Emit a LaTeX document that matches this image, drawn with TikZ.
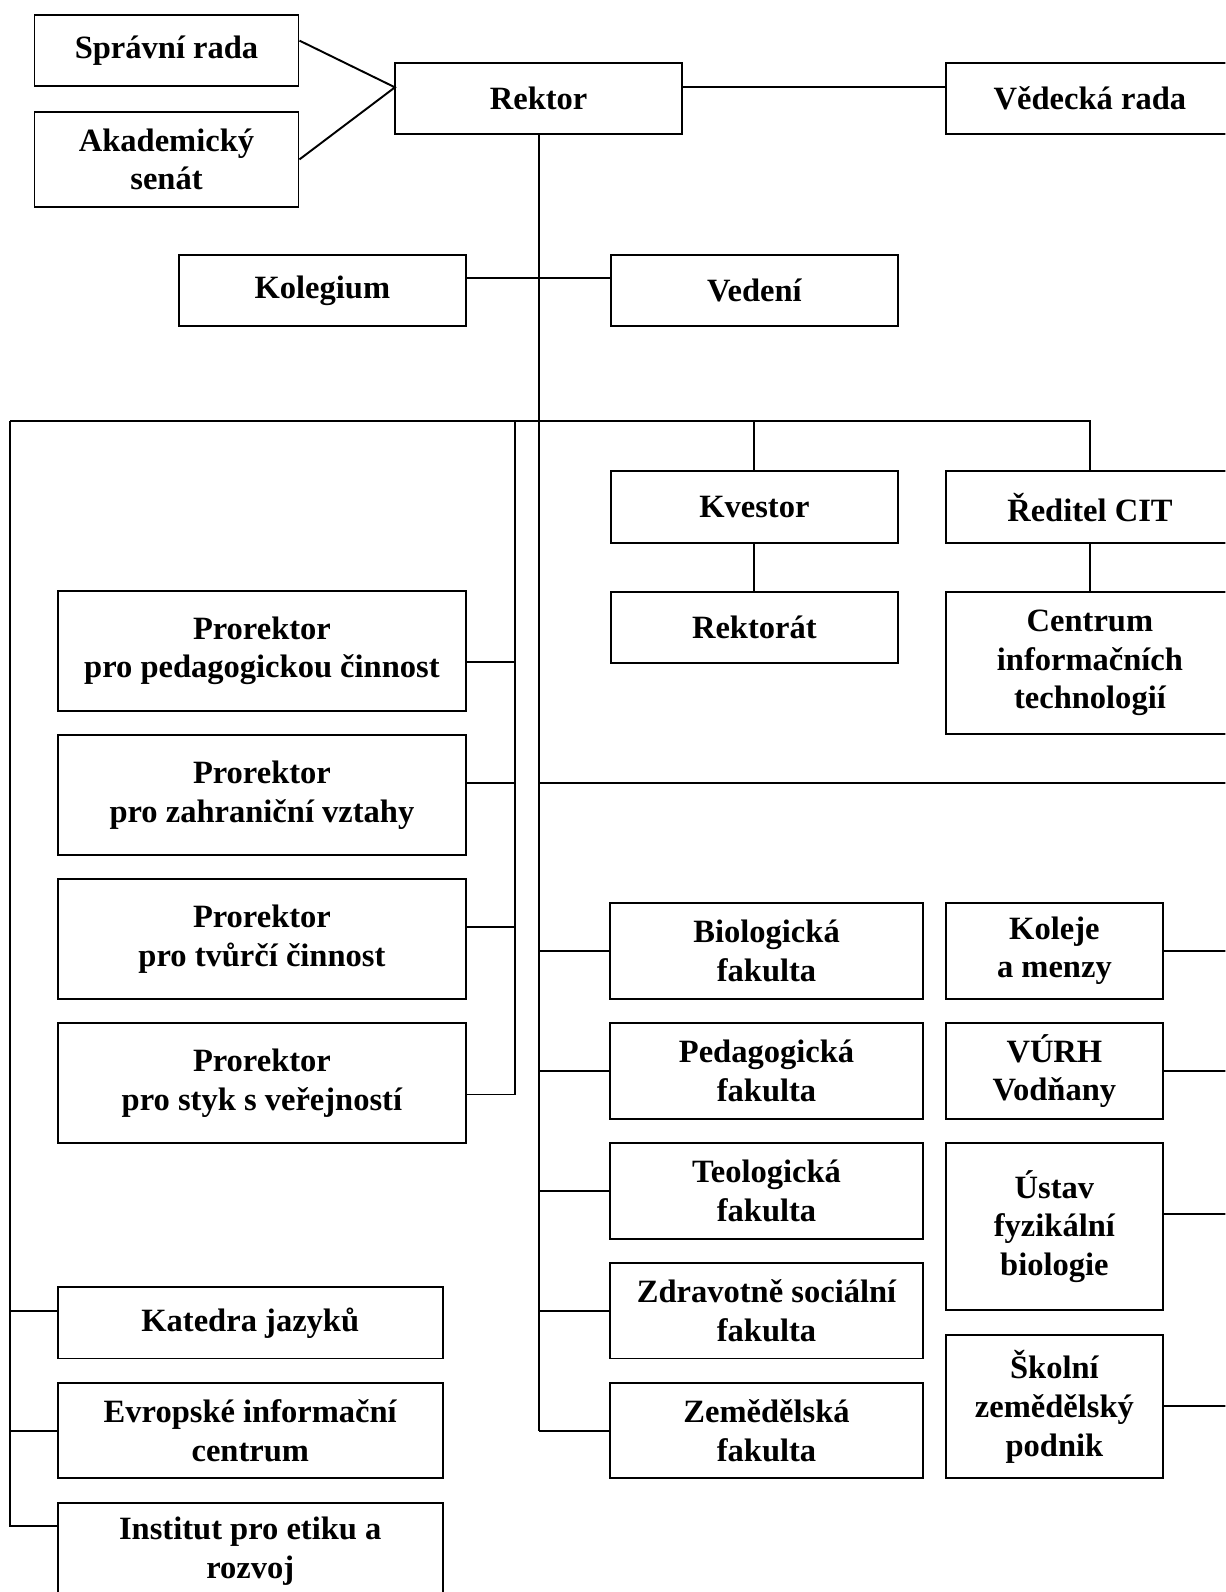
\documentclass[tikz,border=0pt]{standalone}
\usepackage{fontspec}
\setmainfont{Liberation Serif}

\begin{document}
\begin{tikzpicture}[x=0.0203cm, y=-0.0203cm, line width=1.1pt,
            box/.style={draw, align=center, inner sep=2pt,
              font=\bfseries\fontsize{18.5}{22}\selectfont},
            sz/.style 2 args={minimum width=#1*0.0203cm, minimum height=#2*0.0203cm}]
  \useasboundingbox (0,0) rectangle (1207,1568);
  \clip (0,0) rectangle (1207,1568);
  % vedeni univerzity
  \node[box, sz={260}{70}] (sprava) at (164,50) {Správní rada};
  \node[box, sz={260}{94}] (senat) at (164,157) {Akademický\\senát};
  \node[box, sz={283}{70}] (rektor) at (530.5,97) {Rektor};
  \node[box, sz={283}{70}] (vedecka) at (1073.5,97) {Vědecká rada};
  \node[box, sz={283}{70}] (kolegium) at (317.5,286) {Kolegium};
  \node[box, sz={283}{70}] (vedeni) at (743,286) {Vedení};
  \node[box, sz={283}{71}] (kvestor) at (743,499.5) {Kvestor};
  \node[box, sz={283}{70}] (rektorat) at (743,618) {Rektorát};
  \node[box, sz={283}{71}] (reditel) at (1073.5,499.5) {Ředitel CIT};
  \node[box, sz={283}{140}] (cit) at (1073.5,653) {Centrum\\informačních\\technologií};
  % prorektori
  \node[box, sz={402}{118}] (p1) at (258,641) {Prorektor\\pro pedagogickou činnost};
  \node[box, sz={402}{118}] (p2) at (258,783) {Prorektor\\pro zahraniční vztahy};
  \node[box, sz={402}{118}] (p3) at (258,925) {Prorektor\\pro tvůrčí činnost};
  \node[box, sz={402}{118}] (p4) at (258,1067) {Prorektor\\pro styk s veřejností};
  % fakulty
  \node[box, sz={308}{95}] (f1) at (755,936.5) {Biologická\\fakulta};
  \node[box, sz={308}{94}] (f2) at (755,1055) {Pedagogická\\fakulta};
  \node[box, sz={308}{94}] (f3) at (755,1173) {Teologická\\fakulta};
  \node[box, sz={308}{94}] (f4) at (755,1291) {Zdravotně sociální\\fakulta};
  \node[box, sz={308}{94}] (f5) at (755,1409) {Zemědělská\\fakulta};
  % ostatni soucasti
  \node[box, sz={213}{95}] (r1) at (1038.5,936.5) {Koleje\\a menzy};
  \node[box, sz={213}{94}] (r2) at (1038.5,1055) {VÚRH\\Vodňany};
  \node[box, sz={213}{164}] (r3) at (1038.5,1208) {Ústav\\fyzikální\\biologie};
  \node[box, sz={213}{141}] (r4) at (1038.5,1385.5) {Školní\\zemědělský\\podnik};
  \node[box, sz={379}{70}] (katedra) at (246.5,1303) {Katedra jazyků};
  \node[box, sz={379}{94}] (eic) at (246.5,1409) {Evropské informační\\centrum};
  \node[box, sz={379}{96}] (institut) at (246.5,1528) {Institut pro etiku a\\rozvoj};

  % spojnice
  \coordinate (rk) at (389,86);
  \coordinate (kv) at (530,274);
  \coordinate (busL) at (10,415);
  \coordinate (pb) at (507,415);
  \coordinate (mid) at (530,771);
  \coordinate (edgeR) at (1230,771);
  \draw (sprava.east) ++(0,-10) -- (rk) -- (senat.east);
  \draw (rk -| rektor.east) -- (rk -| vedecka.west);
  \draw (kv -| kolegium.east) -- (kv -| vedeni.west);
  \draw (rektor.south) -- (rektor.south |- f5.west);
  \draw (busL) -- (reditel.north |- busL) -- (reditel.north);
  \draw (kvestor.north |- busL) -- (kvestor.north);
  \draw (kvestor) -- (rektorat);
  \draw (reditel) -- (cit);
  \draw (mid) -- (edgeR);
  \foreach \n/\y in {1/652, 2/771, 3/913, 4/1078} {
    \coordinate (pr\n) at (507,\y);
    \draw (pr\n) -- (pr\n -| p\n.east);
  }
  \draw (pb) -- (pr4);
  \foreach \n in {1,...,5}
    \draw (rektor.south |- f\n.west) -- (f\n.west);
  \foreach \n/\y in {1/937, 2/1055, 3/1196, 4/1385} {
    \coordinate (ro\n) at (1230,\y);
    \draw (ro\n -| r\n.east) -- (ro\n);
  }
  \coordinate (l1) at (10,1291);
  \coordinate (l2) at (10,1409);
  \coordinate (l3) at (10,1503);
  \draw (busL) -- (l3) -- (l3 -| institut.west);
  \draw (l1) -- (l1 -| katedra.west);
  \draw (l2) -- (l2 -| eic.west);
\end{tikzpicture}
\end{document}
